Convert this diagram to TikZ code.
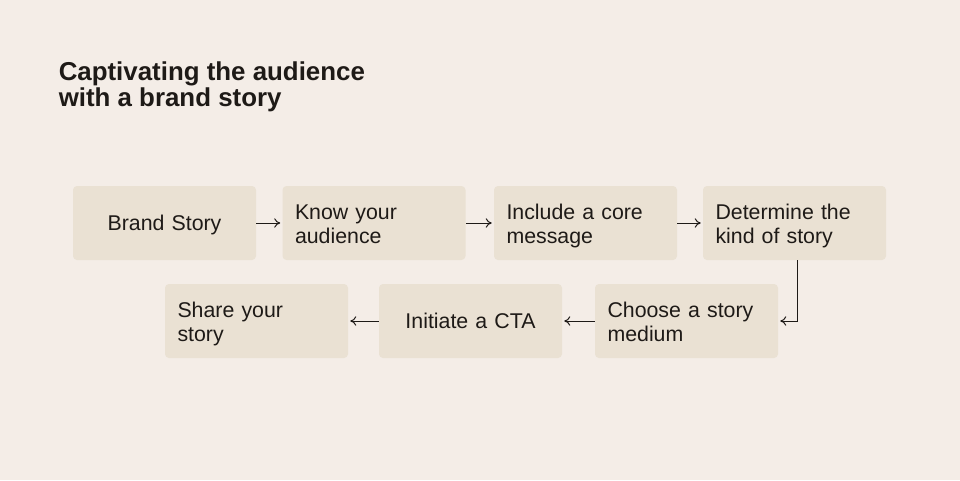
\documentclass[tikz,border=0pt]{standalone}
\usepackage{fontspec}
\setmainfont{Liberation Sans}
\usetikzlibrary{arrows.meta}
\definecolor{paper}{HTML}{F4EDE7}
\definecolor{card}{HTML}{EAE1D3}
\definecolor{ink}{HTML}{1E1A17}

\begin{document}
\begin{tikzpicture}[x=0.75pt,y=-0.75pt]
                \fill[paper] (0,0) rectangle (960,480);
                \node[anchor=north west, inner sep=0, align=left, text=ink, font=\bfseries\fontsize{19.4}{19.5}\selectfont] (title) at (58.5,61.5) {Captivating the audience\\with a brand story};

                \begin{scope}[every node/.style={fill=card, rounded corners=3pt, text=ink, text width=118.5pt, inner xsep=9.375pt, inner ysep=0pt, minimum height=55.5pt, text depth=17pt, align=left, font=\fontsize{16}{18}\selectfont}, every edge/.style={draw=ink, line width=0.75pt, -{To[length=4.5pt,width=7pt]}, shorten >=1.5pt}]
                        \node[align=center, text depth=0pt] (B) at (164.5,223) {Brand Story};
                        \node (K) at (374,223) {Know your\\audience};
                        \node (M) at (585.5,223) {Include a core\\message};
                        \node (D) at (794.5,223) {Determine the\\kind of story};
                        \node (C) at (686.5,321) {Choose a story\\medium};
                        \node[align=center, text depth=0pt] (I) at (470.5,321) {Initiate a CTA};
                        \node (S) at (256.5,321) {Share your\\story};

                        \path (B) edge (K);
                        \path (K) edge (M);
                        \path (M) edge (D);
                        \path ([xshift=2.4pt]D.south) edge[to path={|- (\tikztotarget)}] (C.east);
                        \path (C) edge (I);
                        \path (I) edge (S);
                \end{scope}
\end{tikzpicture}
\end{document}
